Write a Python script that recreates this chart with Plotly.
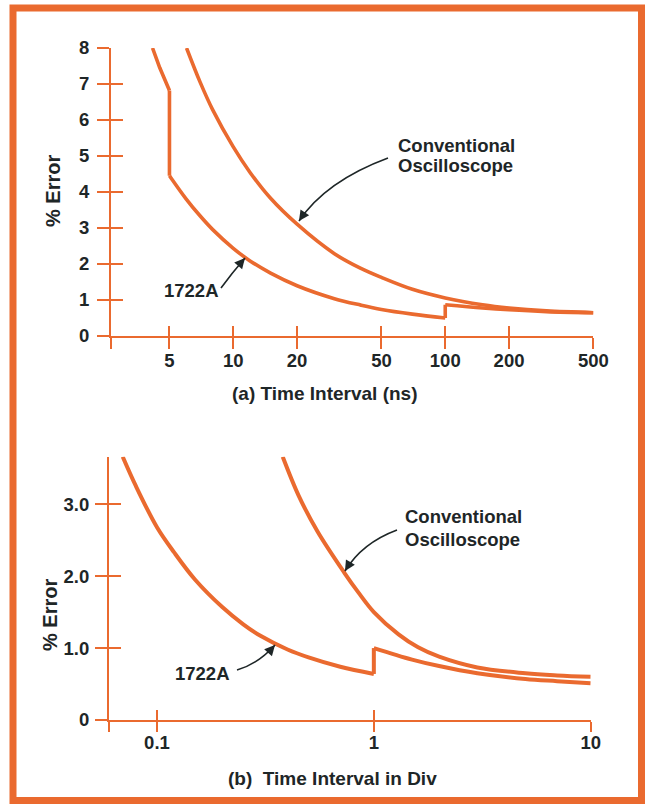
import math
import plotly.graph_objects as go

W, H = 649, 804
ORANGE = "#EA6A2F"
INK = "#1E2627"
FONT = "Liberation Sans, Arial, Helvetica, sans-serif"

# ---------------- data: panel (a)  time interval (ns) vs % error ----------------
# 1722A, split at its two steps (5 ns and 100 ns)
a_t_1722_s1 = [4.16, 4.5, 5.0]
a_e_1722_s1 = [8.0, 7.45, 6.82]
a_t_1722_s2 = [5, 6, 7, 8, 10, 12, 15, 20, 30, 40, 50, 70, 100]
a_e_1722_s2 = [4.45, 3.8, 3.32, 2.95, 2.43, 2.08, 1.74, 1.39, 1.03, 0.85, 0.73, 0.6, 0.49]
a_t_1722_s3 = [100, 150, 200, 300, 500]
a_e_1722_s3 = [0.86, 0.77, 0.72, 0.67, 0.64]
# conventional oscilloscope
a_t_conv = [6.02, 7, 8, 10, 12, 15, 20, 30, 40, 50, 70, 100, 150, 200, 300, 500]
a_e_conv = [8.0, 7.03, 6.28, 5.25, 4.54, 3.82, 3.1, 2.28, 1.87, 1.62, 1.29, 1.05, 0.86, 0.77, 0.69, 0.64]
a_xticks = [5, 10, 20, 50, 100, 200, 500]
a_xlabels = ["5", "10", "20", "50", "100", "200", "500"]
a_yticks = [0, 1, 2, 3, 4, 5, 6, 7, 8]
a_ylabels = ["0", "1", "2", "3", "4", "5", "6", "7", "8"]

# ---------------- data: panel (b)  time interval in div vs % error ----------------
b_t_1722_s1 = [0.0695, 0.08, 0.1, 0.12, 0.15, 0.2, 0.25, 0.3, 0.4, 0.5, 0.7, 1.0]
b_e_1722_s1 = [3.66, 3.25, 2.68, 2.33, 1.95, 1.57, 1.33, 1.17, 0.98, 0.87, 0.74, 0.64]
b_t_1722_s2 = [1.0, 1.5, 2, 3, 5, 7, 10]
b_e_1722_s2 = [1.0, 0.84, 0.75, 0.65, 0.57, 0.54, 0.51]
b_t_conv = [0.38, 0.45, 0.55, 0.73, 0.85, 1.0, 1.3, 1.6, 2, 3, 5, 7, 10]
b_e_conv = [3.66, 3.12, 2.62, 2.05, 1.77, 1.5, 1.19, 1.01, 0.88, 0.73, 0.65, 0.62, 0.6]
b_xticks = [0.1, 1, 10]
b_xlabels = ["0.1", "1", "10"]
b_yticks = [0, 1, 2, 3]
b_ylabels = ["0", "1.0", "2.0", "3.0"]

# axis ranges
a_xrange = [0.4232, math.log10(500)]
a_yrange = [0, 8]
b_xrange = [-1.2212, 1.0]
b_yrange = [0, 3.66]


def px(x):
    return x / W


def py(y):
    return 1 - y / H


fig = go.Figure()


def curve(x, y, xa, ya, width, shape="spline"):
    fig.add_trace(go.Scatter(x=x, y=y, mode="lines", xaxis=xa, yaxis=ya, hoverinfo="skip",
                             line=dict(color=ORANGE, width=width, shape=shape, smoothing=1.0)))


# panel (a)
curve(a_t_conv, a_e_conv, "x", "y", 3.6)
curve(a_t_1722_s1, a_e_1722_s1, "x", "y", 3.6, "linear")
curve([a_t_1722_s1[-1], a_t_1722_s2[0]], [a_e_1722_s1[-1], a_e_1722_s2[0]], "x", "y", 3.6, "linear")
curve(a_t_1722_s2, a_e_1722_s2, "x", "y", 3.6)
curve([a_t_1722_s2[-1], a_t_1722_s3[0]], [a_e_1722_s2[-1], a_e_1722_s3[0]], "x", "y", 3.6, "linear")
curve(a_t_1722_s3, a_e_1722_s3, "x", "y", 3.6)
# panel (b)
curve(b_t_conv, b_e_conv, "x2", "y2", 4)
curve(b_t_1722_s1, b_e_1722_s1, "x2", "y2", 4)
curve([b_t_1722_s1[-1], b_t_1722_s2[0]], [b_e_1722_s1[-1], b_e_1722_s2[0]], "x2", "y2", 4, "linear")
curve(b_t_1722_s2, b_e_1722_s2, "x2", "y2", 4)
# empty traces so that the overlay (inner-tick) axes get drawn
fig.add_trace(go.Scatter(x=[], y=[], xaxis="x3", yaxis="y3", hoverinfo="skip"))
fig.add_trace(go.Scatter(x=[], y=[], xaxis="x4", yaxis="y4", hoverinfo="skip"))

tickfont = dict(family=FONT, size=18.5, color=INK, weight="bold")


def axis(domain, rng, typ, tickvals, ticktext, ticks, ticklen, anchor, show_labels=True, overlaying=None,
         standoff=None, showline=True):
    d = dict(
        domain=domain, range=rng, type=typ, tickmode="array", tickvals=tickvals, ticktext=ticktext,
        ticks=ticks, ticklen=ticklen, tickwidth=2, tickcolor=ORANGE, showline=showline, linecolor=ORANGE,
        linewidth=2, showgrid=False, zeroline=False, showticklabels=show_labels, tickfont=tickfont,
        anchor=anchor, automargin=False, fixedrange=True,
    )
    if overlaying:
        d["overlaying"] = overlaying
        d.pop("domain")
    if standoff is not None:
        d["ticklabelstandoff"] = standoff
    return d


a_xdom = [px(111), px(593.4)]
a_ydom = [py(335.7), py(48)]
b_xdom = [px(109), px(590.7)]
b_ydom = [py(720), py(456.7)]

a_xt_out = [10 ** a_xrange[0]] + a_xticks
a_xl_out = [""] + a_xlabels
b_xt_out = [10 ** b_xrange[0]] + b_xticks
b_xl_out = [""] + b_xlabels

fig.update_layout(
    width=W, height=H, autosize=False,
    margin=dict(l=0, r=0, t=0, b=0, pad=0),
    paper_bgcolor="white", plot_bgcolor="rgba(0,0,0,0)",
    showlegend=False, template="none",
    font=dict(family=FONT, color=INK),
    xaxis=axis(a_xdom, a_xrange, "log", a_xt_out, a_xl_out, "outside", 11, "y", standoff=-4),
    yaxis=axis(a_ydom, a_yrange, "linear", a_yticks, a_ylabels, "outside", 12, "x", standoff=4),
    xaxis3=axis(None, a_xrange, "log", a_xticks, a_xlabels, "inside", 10, "y3", show_labels=False,
                overlaying="x", showline=False),
    yaxis3=axis(None, a_yrange, "linear", a_yticks, a_ylabels, "inside", 12, "x3", show_labels=False,
                overlaying="y", showline=False),
    xaxis2=axis(b_xdom, b_xrange, "log", b_xt_out, b_xl_out, "outside", 10, "y2", standoff=-5),
    yaxis2=axis(b_ydom, b_yrange, "linear", b_yticks, b_ylabels, "outside", 12, "x2", standoff=2),
    xaxis4=axis(None, b_xrange, "log", b_xticks, b_xlabels, "inside", 10, "y4", show_labels=False,
                overlaying="x2", showline=False),
    yaxis4=axis(None, b_yrange, "linear", b_yticks, b_ylabels, "inside", 12, "x4", show_labels=False,
                overlaying="y2", showline=False),
)

# orange frame around the figure
fig.add_shape(type="rect", xref="paper", yref="paper",
              x0=px(13), x1=px(641.5), y0=py(800.5), y1=py(8),
              line=dict(color=ORANGE, width=7), fillcolor="rgba(0,0,0,0)", layer="below")


def text(x, y, s, xanchor="center", yanchor="middle", angle=0, size=18.5):
    fig.add_annotation(x=px(x), y=py(y), xref="paper", yref="paper", text="<b>" + s + "</b>",
                       showarrow=False, xanchor=xanchor, yanchor=yanchor, textangle=angle,
                       font=dict(family=FONT, size=size, color=INK))


def curved_arrow(x0, y0, cx, cy, x1, y1):
    """Leader line (quadratic curve, figure pixels) ending in an arrowhead at (x1, y1)."""
    path = "M {:.5f},{:.5f} Q {:.5f},{:.5f} {:.5f},{:.5f}".format(px(x0), py(y0), px(cx), py(cy), px(x1), py(y1))
    fig.add_shape(type="path", xref="paper", yref="paper", path=path,
                  line=dict(color=INK, width=1.6))
    # arrowhead, aligned with the end tangent of the curve
    dx, dy = cx - x1, cy - y1
    n = math.hypot(dx, dy)
    fig.add_annotation(x=px(x1), y=py(y1), xref="paper", yref="paper", text="", showarrow=True,
                       ax=dx / n * 12, ay=dy / n * 12, arrowhead=2, arrowsize=1.3, arrowwidth=1.6,
                       arrowcolor=INK, standoff=0)


# axis titles
text(53, 191, "% Error", angle=-90, size=20)
text(50, 615, "% Error", angle=-90, size=20)
text(324, 393, "(a) Time Interval (ns)", size=19)
text(332.6, 778, "(b)\u00a0\u00a0Time Interval in Div", size=19)

# curve labels
text(396, 145.5, "Conventional", xanchor="left")
text(396, 165.5, "Oscilloscope", xanchor="left")
text(191, 290, "1722A")
text(403, 516.5, "Conventional", xanchor="left")
text(403, 539.5, "Oscilloscope", xanchor="left")
text(232, 673, "1722A", xanchor="right")

# leader arrows
curved_arrow(388, 158, 326, 181, 299, 221)
curved_arrow(221, 288, 232, 273, 245, 258)
curved_arrow(397, 530, 362, 543, 345, 571)
curved_arrow(237, 670, 258, 664, 275, 645)

fig.write_html("out.html")
